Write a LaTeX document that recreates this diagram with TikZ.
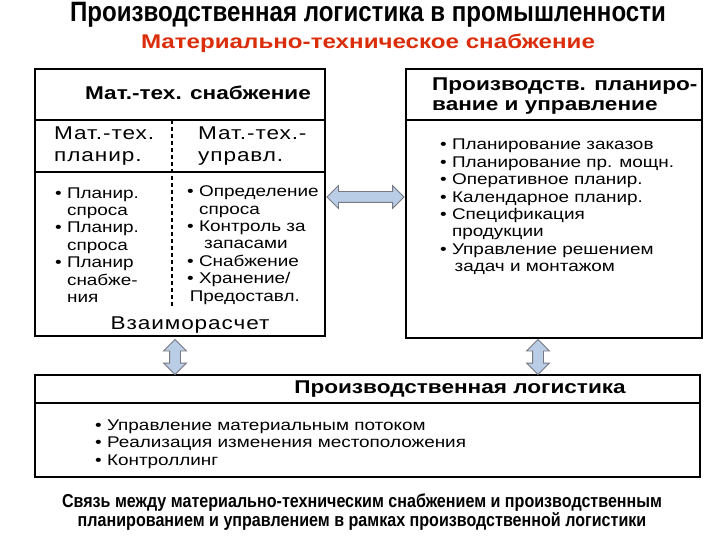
\documentclass[tikz,border=0pt]{standalone}
\usepackage{fontspec}
\setmainfont[FakeStretch=1.22]{Liberation Sans}
\newfontfamily\colfont[FakeStretch=1.22,LetterSpace=5]{Liberation Sans}
\newfontfamily\narrowfont[FakeStretch=0.86]{Liberation Sans}
\usetikzlibrary{positioning,shapes.arrows}
\definecolor{TitleRed}{RGB}{220,45,10}
\definecolor{ArrowBlue}{RGB}{186,205,230}
\definecolor{ArrowGray}{RGB}{120,120,130}
\newcommand{\ind}{\phantom{\textbullet{} }}

\begin{document}
\begin{tikzpicture}[x=1pt,y=-1pt,
    frame/.style={rectangle,draw,line width=1.3pt,inner sep=0pt},
    divider/.style={line width=1.3pt},
    hdr/.style={font=\bfseries\fontsize{18.5}{20}\selectfont,inner sep=0pt,align=left},
    col/.style={font=\colfont\fontsize{18.5}{22}\selectfont,inner sep=0pt,align=left},
    items/.style={font=\fontsize{15.5}{17.4}\selectfont,inner sep=0pt,align=left},
    dblarrow/.style={double arrow,draw=ArrowGray,fill=ArrowBlue,line width=0.8pt,inner xsep=0pt,inner ysep=5pt,double arrow head extend=6pt}
]
\useasboundingbox[fill=white] (0,0) rectangle (720,540);

% titles
\node[font=\narrowfont\bfseries\fontsize{28}{30}\selectfont] (title) at (368,15) {Производственная логистика в промышленности};
\node[font=\bfseries\fontsize{19.8}{24}\selectfont,text=TitleRed] (subtitle) at (368,43) {Материально-техническое снабжение};

% Mat.-tech. supply (left)
\node[frame,minimum width=290pt,minimum height=267pt] (mat-box) at (180,202.5) {};
\draw[divider] (mat-box.west |- 0,120) -- (mat-box.east |- 0,120);
\draw[divider] (mat-box.west |- 0,172) -- (mat-box.east |- 0,172);
\draw[line width=1.5pt,dash pattern=on 4pt off 3pt] (172,120) -- (172,308);
\node[hdr] (mat-head) at (198,93) {Мат.-тех. снабжение};
\node[col,anchor=west] (mat-plan) at (54,146) {Мат.-тех.\\планир.};
\node[col,anchor=west] (mat-ctrl) at (198,146) {Мат.-тех.-\\управл.};
\node[items,anchor=west] (mat-plan-list) at (55,245) {\textbullet{} Планир.\\\ind спроса\\\textbullet{} Планир.\\\ind спроса\\\textbullet{} Планир\\\ind снабже-\\\ind ния};
\node[items,anchor=west] (mat-ctrl-list) at (187,245) {\textbullet{} Определение\\\ind спроса\\\textbullet{} Контроль за\\\ind\,\,запасами\\\textbullet{} Снабжение\\\textbullet{} Хранение/\\\,Предоставл.};
\node[col] (mat-settle) at (190,325) {Взаиморасчет};

% Production planning (right)
\node[frame,minimum width=296pt,minimum height=269pt] (pps-box) at (554,203.5) {};
\draw[divider] (pps-box.west |- 0,120) -- (pps-box.east |- 0,120);
\node[hdr,anchor=west] (pps-head) at (432,96) {Производств. планиро-\\вание и управление};
\node[items,anchor=west] (pps-list) at (440,207) {\textbullet{} Планирование заказов\\\textbullet{} Планирование пр. мощн.\\\textbullet{} Оперативное планир.\\\textbullet{} Календарное планир.\\\textbullet{} Спецификация\\\ind продукции\\\textbullet{} Управление решением\\\ind\,задач и монтажом};

% Production logistics (bottom)
\node[frame,minimum width=665pt,minimum height=102pt] (log-box) at (367.5,426) {};
\draw[divider] (log-box.west |- 0,403) -- (log-box.east |- 0,403);
\node[hdr] (log-head) at (460,389) {Производственная логистика};
\node[items,anchor=west] (log-list) at (95,444) {\textbullet{} Управление материальным потоком\\\textbullet{} Реализация изменения местоположения\\\textbullet{} Контроллинг};

% links
\node[dblarrow,minimum height=77pt] (link-mat-pps) at (365.5,197) {};
\node[dblarrow,rotate=90,minimum height=35pt] (link-mat-log) at (175,357) {};
\node[dblarrow,rotate=90,minimum height=35pt] (link-pps-log) at (538,357) {};

% caption
\node[font=\narrowfont\bfseries\fontsize{18.7}{19}\selectfont,align=center] (caption) at (362,512) {Связь между материально-техническим снабжением и производственным\\планированием и управлением в рамках производственной логистики};
\end{tikzpicture}
\end{document}
